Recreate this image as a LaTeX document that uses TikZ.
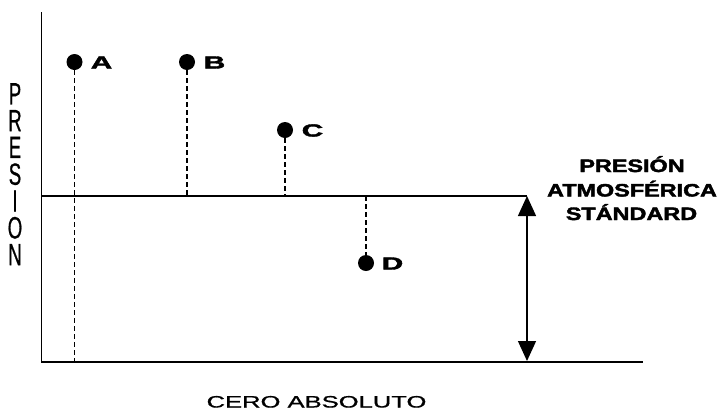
\documentclass[tikz,border=0pt]{standalone}
\usepackage{fontspec}
\setmainfont{Liberation Sans}
\newfontfamily\heavyfont[FakeBold=2]{Liberation Sans Bold}
\newfontfamily\midfont[FakeBold=0.8]{Liberation Sans}
\usetikzlibrary{arrows.meta}
\tikzset{
  dot/.style={circle,fill=black,inner sep=0pt,minimum size=16pt},
  axis/.style={line width=1.8pt},
  guide/.style={line width=1.1pt,dash pattern=on 5pt off 3pt},
  ptlabel/.style={inner sep=0pt,anchor=base,font=\fontsize{17.5}{20}\heavyfont},
  rlabel/.style={inner sep=0pt,anchor=base,font=\fontsize{18}{24}\heavyfont},
  vlabel/.style={inner sep=0pt,anchor=north,align=center,font=\fontsize{20}{26.8}\midfont},
}
\newcommand{\vl}[1]{\scalebox{0.93}[1.54]{#1}}
\begin{document}
\begin{tikzpicture}[x=1pt,y=-1pt]
\useasboundingbox (0,0) rectangle (722,410);
% axes and reference lines
\coordinate (top) at (41.5,12);
\coordinate (origin) at (41.5,362);
\coordinate (bend) at (643,362);
\coordinate (aleft) at (41.5,196);
\coordinate (aright) at (527,196);
\coordinate (arrtop) at (527,196);
\coordinate (arrbot) at (527,361);
\draw[axis] (top) -- (origin) -- (bend);
\draw[line width=1.6pt] (aleft) -- (aright);
\draw[line width=1.3pt,{Triangle[length=20pt,width=18pt]}-{Triangle[length=20pt,width=18pt]}] (arrtop) -- (arrbot);
% points
\node[dot] (A) at (74.5,62) {};
\node[dot] (B) at (187,62) {};
\node[dot] (C) at (285,130) {};
\node[dot] (D) at (366,263) {};
\coordinate (Abot) at (74.5,362);
\coordinate (Bbot) at (187,196);
\coordinate (Cbot) at (285,196);
\coordinate (Dtop) at (366,196);
\draw[guide] (A) -- (Abot);
\draw[guide] (B) -- (Bbot);
\draw[guide] (C) -- (Cbot);
\draw[guide] (Dtop) -- (D);
% point labels
\node[ptlabel] (lA) at (101.5,68.5) {\scalebox{1.7}[1]{A}};
\node[ptlabel] (lB) at (214.5,68.5) {\scalebox{1.7}[1]{B}};
\node[ptlabel] (lC) at (312.5,136.5) {\scalebox{1.7}[1]{C}};
\node[ptlabel] (lD) at (392.5,269.5) {\scalebox{1.7}[1]{D}};
% right label
\node[rlabel] (patm) at (632,172) {\scalebox{1.3}[1]{PRESIÓN}};
\node[rlabel] (patm2) at (632,196.5) {\scalebox{1.3}[1]{ATMOSFÉRICA}};
\node[rlabel] (patm3) at (631.5,220) {\scalebox{1.3}[1]{STÁNDARD}};
% bottom label
\node[inner sep=0pt,anchor=base,font=\fontsize{16.5}{18}\midfont] (cero) at (316.5,407.5)
  {\scalebox{1.55}[1]{CERO ABSOLUTO}};
% vertical label
\node[vlabel] (presion) at (15,83)
  {\vl{P}\\\vl{R}\\\vl{E}\\\vl{S}\\\vl{I}\\\vl{O}\\\vl{N}};
\end{tikzpicture}
\end{document}
